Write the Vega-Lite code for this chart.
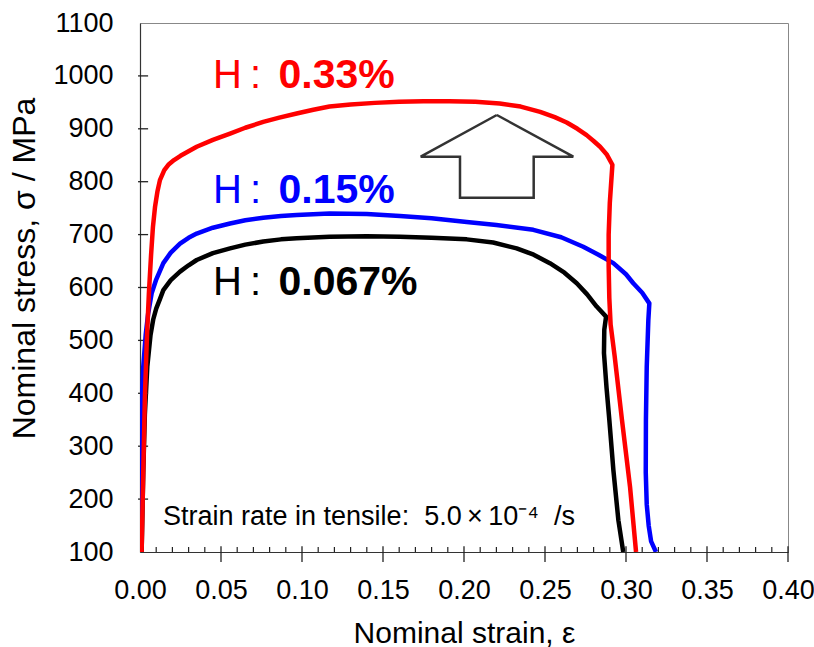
{
  "$schema": "https://vega.github.io/schema/vega-lite/v6.json",
  "width": 648,
  "height": 529,
  "autosize": {"type": "none"},
  "padding": {"left": 140, "top": 23, "right": 26, "bottom": 95},
  "background": "white",
  "config": {
    "view": {"stroke": "#888888", "strokeWidth": 1},
    "font": "Liberation Sans, Arial, sans-serif"
  },
  "datasets": {
    "curves": [
      {"series": "0.067%", "i": 0, "x": 0.0010, "y": 100},
      {"series": "0.067%", "i": 1, "x": 0.0020, "y": 250},
      {"series": "0.067%", "i": 2, "x": 0.0030, "y": 360},
      {"series": "0.067%", "i": 3, "x": 0.0045, "y": 450},
      {"series": "0.067%", "i": 4, "x": 0.0065, "y": 510},
      {"series": "0.067%", "i": 5, "x": 0.0082, "y": 540},
      {"series": "0.067%", "i": 6, "x": 0.0100, "y": 560},
      {"series": "0.067%", "i": 7, "x": 0.0123, "y": 578},
      {"series": "0.067%", "i": 8, "x": 0.0144, "y": 595},
      {"series": "0.067%", "i": 9, "x": 0.0190, "y": 614},
      {"series": "0.067%", "i": 10, "x": 0.0247, "y": 630},
      {"series": "0.067%", "i": 11, "x": 0.0300, "y": 642},
      {"series": "0.067%", "i": 12, "x": 0.0350, "y": 652},
      {"series": "0.067%", "i": 13, "x": 0.0450, "y": 665},
      {"series": "0.067%", "i": 14, "x": 0.0556, "y": 674},
      {"series": "0.067%", "i": 15, "x": 0.0650, "y": 681},
      {"series": "0.067%", "i": 16, "x": 0.0761, "y": 687},
      {"series": "0.067%", "i": 17, "x": 0.0870, "y": 691},
      {"series": "0.067%", "i": 18, "x": 0.0967, "y": 693},
      {"series": "0.067%", "i": 19, "x": 0.1170, "y": 696},
      {"series": "0.067%", "i": 20, "x": 0.1400, "y": 697},
      {"series": "0.067%", "i": 21, "x": 0.1605, "y": 696},
      {"series": "0.067%", "i": 22, "x": 0.1800, "y": 694},
      {"series": "0.067%", "i": 23, "x": 0.2017, "y": 691},
      {"series": "0.067%", "i": 24, "x": 0.2180, "y": 685},
      {"series": "0.067%", "i": 25, "x": 0.2325, "y": 674},
      {"series": "0.067%", "i": 26, "x": 0.2430, "y": 662},
      {"series": "0.067%", "i": 27, "x": 0.2530, "y": 646},
      {"series": "0.067%", "i": 28, "x": 0.2620, "y": 628},
      {"series": "0.067%", "i": 29, "x": 0.2696, "y": 608},
      {"series": "0.067%", "i": 30, "x": 0.2760, "y": 587},
      {"series": "0.067%", "i": 31, "x": 0.2819, "y": 564},
      {"series": "0.067%", "i": 32, "x": 0.2877, "y": 545},
      {"series": "0.067%", "i": 33, "x": 0.2866, "y": 520},
      {"series": "0.067%", "i": 34, "x": 0.2864, "y": 476},
      {"series": "0.067%", "i": 35, "x": 0.2880, "y": 410},
      {"series": "0.067%", "i": 36, "x": 0.2897, "y": 350},
      {"series": "0.067%", "i": 37, "x": 0.2922, "y": 255},
      {"series": "0.067%", "i": 38, "x": 0.2953, "y": 160},
      {"series": "0.067%", "i": 39, "x": 0.2983, "y": 100},

      {"series": "0.15%", "i": 0, "x": 0.0000, "y": 100},
      {"series": "0.15%", "i": 1, "x": 0.0002, "y": 200},
      {"series": "0.15%", "i": 2, "x": 0.0005, "y": 300},
      {"series": "0.15%", "i": 3, "x": 0.0010, "y": 380},
      {"series": "0.15%", "i": 4, "x": 0.0020, "y": 450},
      {"series": "0.15%", "i": 5, "x": 0.0035, "y": 510},
      {"series": "0.15%", "i": 6, "x": 0.0050, "y": 550},
      {"series": "0.15%", "i": 7, "x": 0.0072, "y": 589},
      {"series": "0.15%", "i": 8, "x": 0.0100, "y": 615},
      {"series": "0.15%", "i": 9, "x": 0.0144, "y": 646},
      {"series": "0.15%", "i": 10, "x": 0.0190, "y": 666},
      {"series": "0.15%", "i": 11, "x": 0.0247, "y": 683},
      {"series": "0.15%", "i": 12, "x": 0.0300, "y": 694},
      {"series": "0.15%", "i": 13, "x": 0.0350, "y": 702},
      {"series": "0.15%", "i": 14, "x": 0.0450, "y": 713},
      {"series": "0.15%", "i": 15, "x": 0.0556, "y": 721},
      {"series": "0.15%", "i": 16, "x": 0.0650, "y": 727},
      {"series": "0.15%", "i": 17, "x": 0.0761, "y": 732},
      {"series": "0.15%", "i": 18, "x": 0.0870, "y": 735},
      {"series": "0.15%", "i": 19, "x": 0.0967, "y": 737},
      {"series": "0.15%", "i": 20, "x": 0.1170, "y": 740},
      {"series": "0.15%", "i": 21, "x": 0.1400, "y": 739},
      {"series": "0.15%", "i": 22, "x": 0.1605, "y": 735},
      {"series": "0.15%", "i": 23, "x": 0.1800, "y": 731},
      {"series": "0.15%", "i": 24, "x": 0.2017, "y": 724},
      {"series": "0.15%", "i": 25, "x": 0.2200, "y": 718},
      {"series": "0.15%", "i": 26, "x": 0.2428, "y": 709},
      {"series": "0.15%", "i": 27, "x": 0.2600, "y": 695},
      {"series": "0.15%", "i": 28, "x": 0.2736, "y": 677},
      {"series": "0.15%", "i": 29, "x": 0.2830, "y": 662},
      {"series": "0.15%", "i": 30, "x": 0.2922, "y": 646},
      {"series": "0.15%", "i": 31, "x": 0.3000, "y": 625},
      {"series": "0.15%", "i": 32, "x": 0.3045, "y": 608},
      {"series": "0.15%", "i": 33, "x": 0.3100, "y": 590},
      {"series": "0.15%", "i": 34, "x": 0.3144, "y": 570},
      {"series": "0.15%", "i": 35, "x": 0.3138, "y": 539},
      {"series": "0.15%", "i": 36, "x": 0.3128, "y": 450},
      {"series": "0.15%", "i": 37, "x": 0.3123, "y": 350},
      {"series": "0.15%", "i": 38, "x": 0.3122, "y": 250},
      {"series": "0.15%", "i": 39, "x": 0.3128, "y": 190},
      {"series": "0.15%", "i": 40, "x": 0.3140, "y": 150},
      {"series": "0.15%", "i": 41, "x": 0.3155, "y": 120},
      {"series": "0.15%", "i": 42, "x": 0.3185, "y": 100},

      {"series": "0.33%", "i": 0, "x": 0.0010, "y": 100},
      {"series": "0.33%", "i": 1, "x": 0.0020, "y": 250},
      {"series": "0.33%", "i": 2, "x": 0.0030, "y": 390},
      {"series": "0.33%", "i": 3, "x": 0.0042, "y": 500},
      {"series": "0.33%", "i": 4, "x": 0.0055, "y": 590},
      {"series": "0.33%", "i": 5, "x": 0.0068, "y": 660},
      {"series": "0.33%", "i": 6, "x": 0.0080, "y": 715},
      {"series": "0.33%", "i": 7, "x": 0.0093, "y": 753},
      {"series": "0.33%", "i": 8, "x": 0.0108, "y": 782},
      {"series": "0.33%", "i": 9, "x": 0.0123, "y": 803},
      {"series": "0.33%", "i": 10, "x": 0.0150, "y": 822},
      {"series": "0.33%", "i": 11, "x": 0.0175, "y": 832},
      {"series": "0.33%", "i": 12, "x": 0.0210, "y": 841},
      {"series": "0.33%", "i": 13, "x": 0.0250, "y": 849},
      {"series": "0.33%", "i": 14, "x": 0.0350, "y": 866},
      {"series": "0.33%", "i": 15, "x": 0.0450, "y": 879},
      {"series": "0.33%", "i": 16, "x": 0.0556, "y": 891},
      {"series": "0.33%", "i": 17, "x": 0.0650, "y": 902},
      {"series": "0.33%", "i": 18, "x": 0.0761, "y": 913},
      {"series": "0.33%", "i": 19, "x": 0.0860, "y": 921},
      {"series": "0.33%", "i": 20, "x": 0.0967, "y": 929},
      {"series": "0.33%", "i": 21, "x": 0.1070, "y": 936},
      {"series": "0.33%", "i": 22, "x": 0.1170, "y": 942},
      {"series": "0.33%", "i": 23, "x": 0.1300, "y": 946},
      {"series": "0.33%", "i": 24, "x": 0.1450, "y": 949},
      {"series": "0.33%", "i": 25, "x": 0.1600, "y": 951},
      {"series": "0.33%", "i": 26, "x": 0.1750, "y": 952},
      {"series": "0.33%", "i": 27, "x": 0.1910, "y": 952},
      {"series": "0.33%", "i": 28, "x": 0.2070, "y": 951},
      {"series": "0.33%", "i": 29, "x": 0.2220, "y": 948},
      {"series": "0.33%", "i": 30, "x": 0.2350, "y": 942},
      {"series": "0.33%", "i": 31, "x": 0.2470, "y": 932},
      {"series": "0.33%", "i": 32, "x": 0.2560, "y": 922},
      {"series": "0.33%", "i": 33, "x": 0.2634, "y": 912},
      {"series": "0.33%", "i": 34, "x": 0.2700, "y": 900},
      {"series": "0.33%", "i": 35, "x": 0.2757, "y": 888},
      {"series": "0.33%", "i": 36, "x": 0.2800, "y": 877},
      {"series": "0.33%", "i": 37, "x": 0.2840, "y": 866},
      {"series": "0.33%", "i": 38, "x": 0.2880, "y": 852},
      {"series": "0.33%", "i": 39, "x": 0.2916, "y": 832},
      {"series": "0.33%", "i": 40, "x": 0.2900, "y": 760},
      {"series": "0.33%", "i": 41, "x": 0.2893, "y": 700},
      {"series": "0.33%", "i": 42, "x": 0.2893, "y": 640},
      {"series": "0.33%", "i": 43, "x": 0.2897, "y": 580},
      {"series": "0.33%", "i": 44, "x": 0.2905, "y": 530},
      {"series": "0.33%", "i": 45, "x": 0.2930, "y": 470},
      {"series": "0.33%", "i": 46, "x": 0.2975, "y": 350},
      {"series": "0.33%", "i": 47, "x": 0.3025, "y": 223},
      {"series": "0.33%", "i": 48, "x": 0.3062, "y": 100}
    ],
    "labels": [
      {"series": "0.33%", "xh": 0.0451, "xv": 0.0855, "y": 976.6, "h": "H\u2009:", "v": "0.33%"},
      {"series": "0.15%", "xh": 0.0451, "xv": 0.0855, "y": 760.3, "h": "H\u2009:", "v": "0.15%"},
      {"series": "0.067%", "xh": 0.0451, "xv": 0.0855, "y": 585.8, "h": "H\u2009:", "v": "0.067%"}
    ],
    "arrow": [
      {"i": 0, "x": 0.22025, "y": 926.1},
      {"i": 1, "x": 0.26747, "y": 847.3},
      {"i": 2, "x": 0.24302, "y": 847.3},
      {"i": 3, "x": 0.24302, "y": 769.8},
      {"i": 4, "x": 0.19753, "y": 769.8},
      {"i": 5, "x": 0.19753, "y": 847.3},
      {"i": 6, "x": 0.17327, "y": 847.3},
      {"i": 7, "x": 0.22025, "y": 926.1}
    ],
    "note": [
      {"x": 0.0142, "y": 151, "t": "Strain rate in tensile:\u00a0\u00a05.0\u2009×\u200910⁻⁴\u00a0\u00a0/s"}
    ],
    "xmajor": [
      {"x": 0.05}, {"x": 0.1}, {"x": 0.15}, {"x": 0.2}, {"x": 0.25}, {"x": 0.3}, {"x": 0.35}, {"x": 0.4}
    ],
    "xminor": [
      {"x": 0.01}, {"x": 0.02}, {"x": 0.03}, {"x": 0.04},
      {"x": 0.06}, {"x": 0.07}, {"x": 0.08}, {"x": 0.09},
      {"x": 0.11}, {"x": 0.12}, {"x": 0.13}, {"x": 0.14},
      {"x": 0.16}, {"x": 0.17}, {"x": 0.18}, {"x": 0.19},
      {"x": 0.21}, {"x": 0.22}, {"x": 0.23}, {"x": 0.24},
      {"x": 0.26}, {"x": 0.27}, {"x": 0.28}, {"x": 0.29},
      {"x": 0.31}, {"x": 0.32}, {"x": 0.33}, {"x": 0.34},
      {"x": 0.36}, {"x": 0.37}, {"x": 0.38}, {"x": 0.39}
    ],
    "yticks": [
      {"y": 200}, {"y": 300}, {"y": 400}, {"y": 500}, {"y": 600}, {"y": 700}, {"y": 800}, {"y": 900}, {"y": 1000}
    ]
  },
  "layer": [
    {
      "data": {"name": "curves"},
      "transform": [{"filter": {"field": "series", "equal": "0.067%"}}],
      "mark": {"type": "line", "strokeWidth": 4.5, "clip": true, "strokeJoin": "round"},
      "encoding": {
        "x": {
          "field": "x", "type": "quantitative",
          "scale": {"domain": [0, 0.4], "nice": false, "zero": false},
          "axis": {
            "orient": "bottom", "grid": false, "ticks": false,
            "values": [0, 0.05, 0.1, 0.15, 0.2, 0.25, 0.3, 0.35, 0.4],
            "format": ".2f",
            "labelFontSize": 27, "labelColor": "#000", "labelFlush": false, "labelOverlap": false,
            "labelBaseline": "alphabetic", "labelPadding": 46,
            "domainColor": "#333", "domainWidth": 1.2,
            "title": "Nominal strain, ε", "titleFontSize": 30, "titleFontWeight": "normal",
            "titleColor": "#000", "titleBaseline": "alphabetic", "titleY": 90
          }
        },
        "y": {
          "field": "y", "type": "quantitative",
          "scale": {"domain": [100, 1100], "nice": false, "zero": false},
          "axis": {
            "orient": "left", "grid": false, "ticks": false,
            "values": [100, 200, 300, 400, 500, 600, 700, 800, 900, 1000, 1100],
            "format": "d",
            "labelFontSize": 27, "labelColor": "#000", "labelFlush": false, "labelOverlap": false,
            "labelPadding": 27, "domainColor": "#333", "domainWidth": 1.2,
            "title": "Nominal stress, σ / MPa", "titleFontSize": 32, "titleFontWeight": "normal",
            "titleColor": "#000", "titleBaseline": "alphabetic", "titleX": -106, "titleY": 245
          }
        },
        "order": {"field": "i", "type": "quantitative"},
        "color": {"field": "series", "type": "nominal", "scale": {"domain": ["0.067%", "0.15%", "0.33%"], "range": ["#000000", "#0000ff", "#ff0000"]}, "legend": null}
      }
    },
    {
      "data": {"name": "xmajor"},
      "mark": {"type": "rule", "color": "#222", "strokeWidth": 1.3},
      "encoding": {
        "x": {"field": "x", "type": "quantitative"},
        "y": {"datum": 111, "type": "quantitative"},
        "y2": {"datum": 81}
      }
    },
    {
      "data": {"name": "xminor"},
      "mark": {"type": "rule", "color": "#222", "strokeWidth": 1.2},
      "encoding": {
        "x": {"field": "x", "type": "quantitative"},
        "y": {"datum": 100, "type": "quantitative"},
        "y2": {"datum": 109.5}
      }
    },
    {
      "data": {"name": "yticks"},
      "mark": {"type": "rule", "color": "#222", "strokeWidth": 1.3},
      "encoding": {
        "y": {"field": "y", "type": "quantitative"},
        "x": {"datum": -0.0012, "type": "quantitative"},
        "x2": {"datum": 0.0050}
      }
    },
    {
      "data": {"name": "curves"},
      "transform": [{"filter": {"field": "series", "equal": "0.15%"}}],
      "mark": {"type": "line", "strokeWidth": 4.5, "clip": true, "strokeJoin": "round"},
      "encoding": {
        "x": {"field": "x", "type": "quantitative"},
        "y": {"field": "y", "type": "quantitative"},
        "order": {"field": "i", "type": "quantitative"},
        "color": {"field": "series", "type": "nominal", "legend": null}
      }
    },
    {
      "data": {"name": "curves"},
      "transform": [{"filter": {"field": "series", "equal": "0.33%"}}],
      "mark": {"type": "line", "strokeWidth": 4.5, "clip": true, "strokeJoin": "round"},
      "encoding": {
        "x": {"field": "x", "type": "quantitative"},
        "y": {"field": "y", "type": "quantitative"},
        "order": {"field": "i", "type": "quantitative"},
        "color": {"field": "series", "type": "nominal", "legend": null}
      }
    },
    {
      "data": {"name": "arrow"},
      "mark": {"type": "line", "stroke": "#333333", "strokeWidth": 2.5, "strokeJoin": "miter"},
      "encoding": {
        "x": {"field": "x", "type": "quantitative"},
        "y": {"field": "y", "type": "quantitative"},
        "order": {"field": "i", "type": "quantitative"}
      }
    },
    {
      "data": {"name": "labels"},
      "mark": {"type": "text", "fontSize": 40, "align": "left", "baseline": "alphabetic"},
      "encoding": {
        "x": {"field": "xh", "type": "quantitative"},
        "y": {"field": "y", "type": "quantitative"},
        "text": {"field": "h"},
        "color": {"field": "series", "type": "nominal", "legend": null}
      }
    },
    {
      "data": {"name": "labels"},
      "mark": {"type": "text", "fontSize": 41, "fontWeight": "bold", "align": "left", "baseline": "alphabetic"},
      "encoding": {
        "x": {"field": "xv", "type": "quantitative"},
        "y": {"field": "y", "type": "quantitative"},
        "text": {"field": "v"},
        "color": {"field": "series", "type": "nominal", "legend": null}
      }
    },
    {
      "data": {"name": "note"},
      "mark": {"type": "text", "fontSize": 27, "align": "left", "baseline": "alphabetic", "color": "#000"},
      "encoding": {
        "x": {"field": "x", "type": "quantitative"},
        "y": {"field": "y", "type": "quantitative"},
        "text": {"field": "t"}
      }
    }
  ]
}
